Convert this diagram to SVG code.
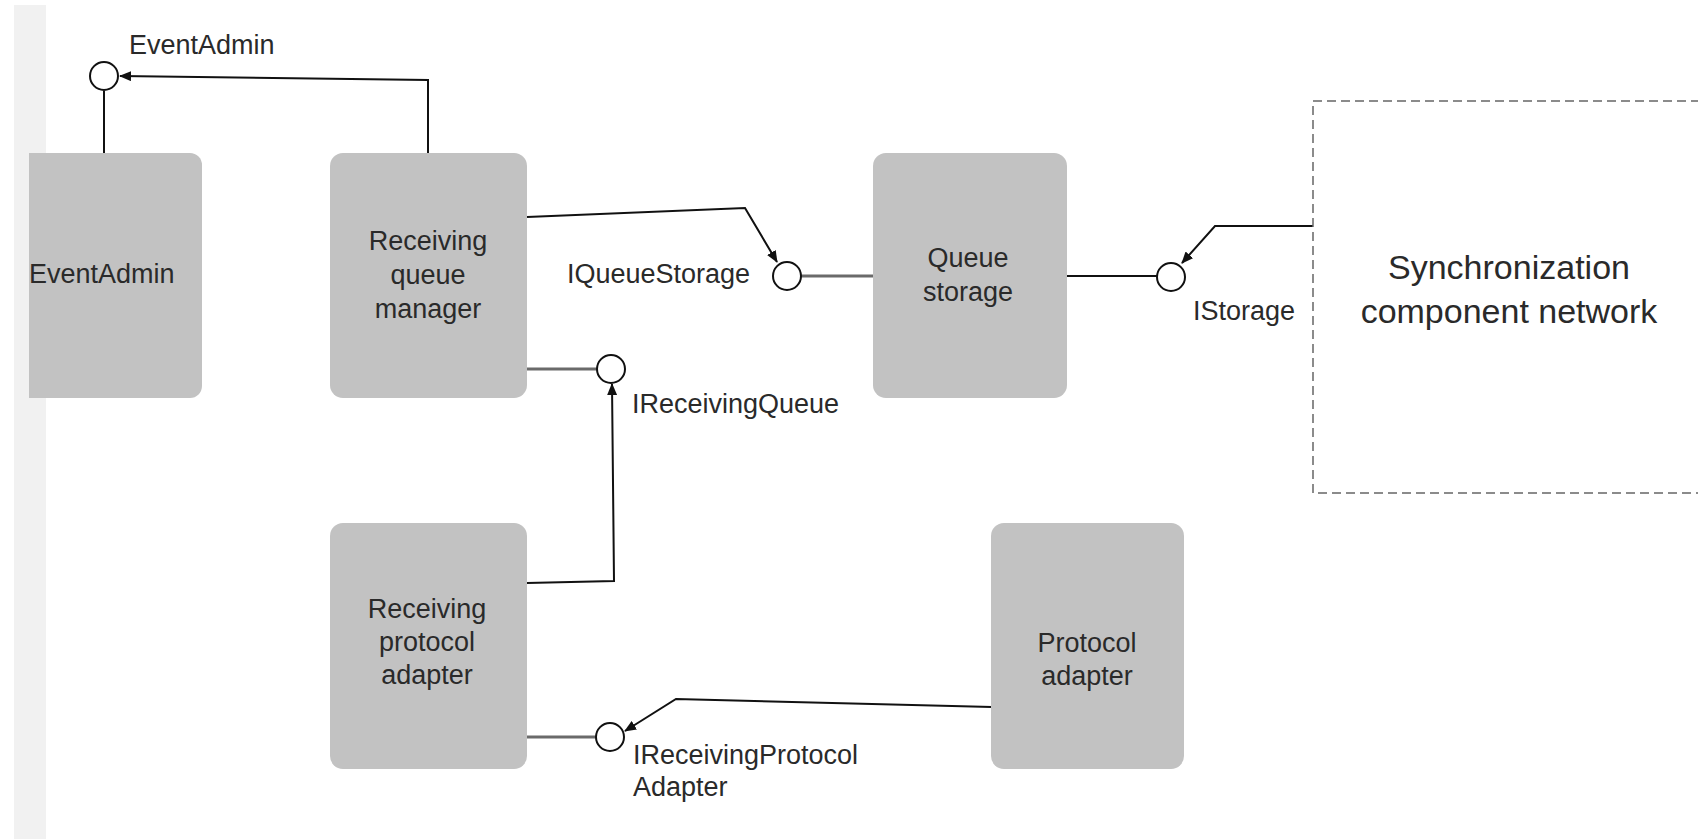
<svg xmlns="http://www.w3.org/2000/svg" width="1698" height="839" viewBox="0 0 1698 839">
<style>
.box{fill:#c2c2c2;stroke:none}
.t{font-family:"Liberation Sans",Arial,sans-serif;font-size:27px;fill:#2a2a2a}
.c{text-anchor:middle}
.big{font-size:34px}
.ln{fill:none;stroke:#111;stroke-width:2}
.lol{fill:none;stroke:#6a6a6a;stroke-width:3.2}
.ifc{fill:#fff;stroke:#111;stroke-width:2}
.dash{fill:none;stroke:#666;stroke-width:1.5;stroke-dasharray:9 5}
</style>
<defs>
<marker id="arr" markerUnits="userSpaceOnUse" markerWidth="12" markerHeight="10" refX="11" refY="5" orient="auto">
<path d="M0,0 L12,5 L0,10 Z" fill="#111"/>
</marker>
</defs>
<rect x="0" y="0" width="1698" height="839" fill="#fff"/>
<rect x="14" y="5" width="32" height="834" fill="#f1f1f1"/>

<g id="connectors">
<path class="ln" d="M104,91 V153"/>
<path class="ln" d="M428,153 V80 L120,76" marker-end="url(#arr)"/>
<path class="ln" d="M527,217 L745,208 L777,262" marker-end="url(#arr)"/>
<path class="lol" d="M801,276 H873"/>
<path class="lol" d="M527,369 H597"/>
<path class="ln" d="M527,583 L614,581 L612,384" marker-end="url(#arr)"/>
<path class="ln" d="M1067,276 H1157"/>
<path class="ln" d="M1313,226 H1215 L1182,263" marker-end="url(#arr)"/>
<path class="lol" d="M527,737 H596"/>
<path class="ln" d="M992,707 L676,699 L625,731" marker-end="url(#arr)"/>
</g>

<g id="iface-eventadmin">
<circle class="ifc" cx="104" cy="76" r="14"/>
<text class="t" x="129" y="54">EventAdmin</text>
</g>
<g id="iface-iqueuestorage">
<circle class="ifc" cx="787" cy="276" r="14"/>
<text class="t" x="567" y="283">IQueueStorage</text>
</g>
<g id="iface-ireceivingqueue">
<circle class="ifc" cx="611" cy="369" r="14"/>
<text class="t" x="632" y="413">IReceivingQueue</text>
</g>
<g id="iface-istorage">
<circle class="ifc" cx="1171" cy="277" r="14"/>
<text class="t" x="1193" y="320">IStorage</text>
</g>
<g id="iface-ireceivingprotocoladapter">
<circle class="ifc" cx="610" cy="737" r="14"/>
<text class="t" x="633" y="764">IReceivingProtocol</text>
<text class="t" x="633" y="796">Adapter</text>
</g>

<g id="node-eventadmin">
<path class="box" d="M29,153 H190 A12,12 0 0 1 202,165 V386 A12,12 0 0 1 190,398 H29 Z"/>
<text class="t" x="29" y="283">EventAdmin</text>
</g>
<g id="node-receiving-queue-manager">
<rect class="box" x="330" y="153" width="197" height="245" rx="13"/>
<text class="t c" x="428" y="250">Receiving</text>
<text class="t c" x="428" y="284">queue</text>
<text class="t c" x="428" y="318">manager</text>
</g>
<g id="node-queue-storage">
<rect class="box" x="873" y="153" width="194" height="245" rx="13"/>
<text class="t c" x="968" y="267">Queue</text>
<text class="t c" x="968" y="301">storage</text>
</g>
<g id="node-receiving-protocol-adapter">
<rect class="box" x="330" y="523" width="197" height="246" rx="13"/>
<text class="t c" x="427" y="618">Receiving</text>
<text class="t c" x="427" y="651">protocol</text>
<text class="t c" x="427" y="684">adapter</text>
</g>
<g id="node-protocol-adapter">
<rect class="box" x="991" y="523" width="193" height="246" rx="13"/>
<text class="t c" x="1087" y="652">Protocol</text>
<text class="t c" x="1087" y="685">adapter</text>
</g>
<g id="node-sync-network">
<rect class="dash" x="1313" y="101" width="420" height="392"/>
<text class="t c big" x="1509" y="279">Synchronization</text>
<text class="t c big" x="1509" y="323">component network</text>
</g>
</svg>
